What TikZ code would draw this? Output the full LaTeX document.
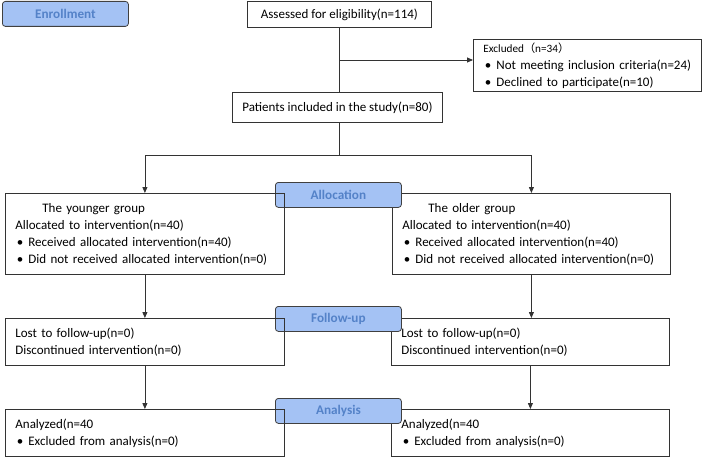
\documentclass[tikz,border=0pt]{standalone}
\usepackage{fontspec}
\setmainfont{Carlito}
\newfontfamily\cjk{Noto Sans CJK SC}
\usepackage{xcolor}
\usetikzlibrary{arrows.meta,positioning}
\definecolor{stagefill}{RGB}{164,194,244}
\definecolor{stagetext}{RGB}{84,130,200}
\newcommand{\bitem}[1]{\mbox{\makebox[13pt][l]{\hspace{1.5pt}•}#1}}
\tikzset{
  flowbox/.style={draw=black!80, anchor=north west, inner xsep=10pt, inner ysep=0pt, align=left, font=\fontsize{13}{17}\selectfont},
  stagebox/.style={draw=black!75, fill=stagefill, rounded corners=3pt, anchor=north west, minimum width=126pt, minimum height=25pt, inner sep=0pt, text=stagetext, font=\fontsize{13.2}{14}\selectfont\bfseries},
  thinarrow/.style={-{Triangle[length=6pt,width=5pt]}, draw=black!80},
}

\begin{document}
\begin{tikzpicture}[x=1pt, y=-1pt, line width=0.8pt]
  \useasboundingbox (0,0) rectangle (708,460);

  % Enrollment
  \node[flowbox, align=center, minimum width=184pt, minimum height=26pt] (assess) at (247,1) {Assessed for eligibility(n=114)};
  \node[flowbox, text width=208pt, minimum height=52pt] (excluded) at (473,39) {{\fontsize{11.2}{13}\selectfont Excluded{\cjk （}n=34{\cjk ）}}\\\bitem{Not meeting inclusion criteria(n=24)}\\\bitem{Declined to participate(n=10)}};
  \node[flowbox, align=center, minimum width=186pt, minimum height=30pt] (patients) at (232,92) {Patients included in the study(n=80)};

  % Right arm
  \node[flowbox, fill=white, text width=258pt, minimum height=81pt] (old) at (392,193) {\hspace*{26pt}The older group\\Allocated to intervention(n=40)\\\bitem{Received allocated intervention(n=40)}\\\bitem{Did not received allocated intervention(n=0)}};
  \node[flowbox, fill=white, text width=258pt, minimum height=47pt] (oldfu) at (391,318) {Lost to follow-up(n=0)\\Discontinued intervention(n=0)};
  \node[flowbox, fill=white, text width=258pt, minimum height=47pt] (oldan) at (391,409) {Analyzed(n=40\\\bitem{Excluded from analysis(n=0)}};

  % Stage labels
  \node[stagebox] (enroll) at (2,1) {Enrollment};
  \node[stagebox] (alloc) at (275,182) {Allocation};
  \node[stagebox] (follow) at (275,306) {Follow-up};
  \node[stagebox] (analysis) at (275,398) {Analysis};

  % Left arm
  \node[flowbox, text width=259pt, minimum height=81pt] (young) at (5,193) {\hspace*{27pt}The younger group\\Allocated to intervention(n=40)\\\bitem{Received allocated intervention(n=40)}\\\bitem{Did not received allocated intervention(n=0)}};
  \node[flowbox, text width=259pt, minimum height=47pt] (youngfu) at (5,318) {Lost to follow-up(n=0)\\Discontinued intervention(n=0)};
  \node[flowbox, text width=259pt, minimum height=47pt] (youngan) at (5,409) {Analyzed(n=40\\\bitem{Excluded from analysis(n=0)}};

  \coordinate (exsplit) at (339,60);
  \coordinate (fork) at (339,155);
  \draw[draw=black!80] (assess.south) -- (assess.south |- patients.north);
  \draw[thinarrow] (exsplit) -- (exsplit -| excluded.west);
  \draw[draw=black!80] (fork |- patients.south) -- (fork);
  \draw[thinarrow] (fork) -| (young.north);
  \draw[thinarrow] (fork) -| (old.north);
  \draw[thinarrow] (young) -- (youngfu);
  \draw[thinarrow] (youngfu) -- (youngan);
  \draw[thinarrow] (old.south) -- (old.south |- oldfu.north);
  \draw[thinarrow] (oldfu) -- (oldan);
\end{tikzpicture}
\end{document}
